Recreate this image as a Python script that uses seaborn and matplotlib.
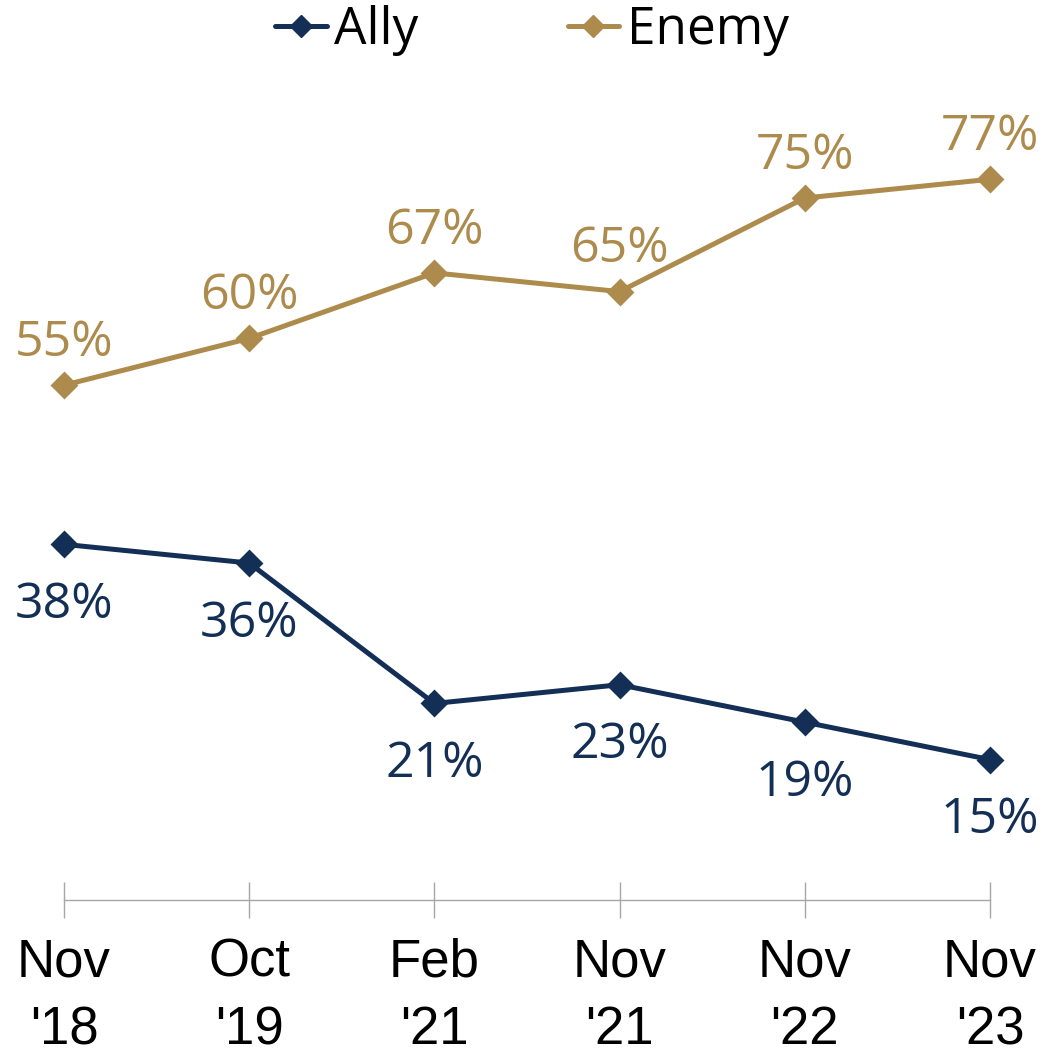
import matplotlib
matplotlib.use("Agg")
import matplotlib.pyplot as plt
import seaborn as sns
import pandas as pd
from matplotlib.lines import Line2D

categories = ["Nov\n'18", "Oct\n'19", "Feb\n'21", "Nov\n'21", "Nov\n'22", "Nov\n'23"]
ally = [38, 36, 21, 23, 19, 15]
enemy = [55, 60, 67, 65, 75, 77]

NAVY = "#142F55"
GOLD = "#AD8B4C"
GRAY = "#A6A6A6"

sns.set_theme(style="white")
plt.rcParams["font.family"] = ["Open Sans", "DejaVu Sans"]
plt.rcParams["text.color"] = "black"

df = pd.DataFrame({
    "x": list(range(len(categories))) * 2,
    "value": ally + enemy,
    "series": ["Ally"] * len(ally) + ["Enemy"] * len(enemy),
})

fig = plt.figure(figsize=(10.49, 10.55), dpi=100)
ax = fig.add_axes([64 / 1049, 155 / 1055, 926 / 1049, 842.4 / 1055])

sns.lineplot(data=df, x="x", y="value", hue="series", palette={"Ally": NAVY, "Enemy": GOLD},
             marker="D", markersize=12, linewidth=3.6, markeredgewidth=2.0,
             sort=False, ax=ax, legend=False, clip_on=False)
for ln in ax.lines:
    ln.set_markeredgecolor(ln.get_color())
    ln.set_solid_joinstyle("round")
    ln.set_solid_capstyle("round")

ax.set_xlim(0, len(categories) - 1)
ax.set_ylim(0, 90)
ax.set_xlabel("")
ax.set_ylabel("")
ax.set_yticks([])
ax.set_xticks(range(len(categories)))
ax.set_xticklabels(categories, fontfamily="Liberation Sans", fontsize=38, linespacing=1.45)
for s in ["top", "left", "right"]:
    ax.spines[s].set_visible(False)
ax.spines["bottom"].set_color(GRAY)
ax.spines["bottom"].set_linewidth(1.0)
ax.tick_params(axis="x", direction="inout", length=26, width=1.0, color=GRAY, pad=14,
               labelcolor="black", bottom=True)

for i, v in enumerate(enemy):
    ax.annotate(f"{v}%", (i, v), xytext=(0, 21), textcoords="offset points",
                ha="center", va="baseline", fontsize=36, color=GOLD, annotation_clip=False)
for i, v in enumerate(ally):
    ax.annotate(f"{v}%", (i, v), xytext=(0, -53), textcoords="offset points",
                ha="center", va="baseline", fontsize=36, color=NAVY, annotation_clip=False)

handles = [Line2D([], [], color=NAVY, marker="D", markersize=11, linewidth=3.6, solid_capstyle="round"),
           Line2D([], [], color=GOLD, marker="D", markersize=11, linewidth=3.6, solid_capstyle="round")]
leg = fig.legend(handles, ["Ally", "Enemy"], loc="center", bbox_to_anchor=(532 / 1049, 1 - 30 / 1055),
                 ncol=2, frameon=False, fontsize=37, handlelength=1.0, handletextpad=0.15,
                 columnspacing=2.9, borderpad=0, borderaxespad=0)
for t in leg.get_texts():
    t.set_color("black")

fig.savefig("out.png", dpi=100)
